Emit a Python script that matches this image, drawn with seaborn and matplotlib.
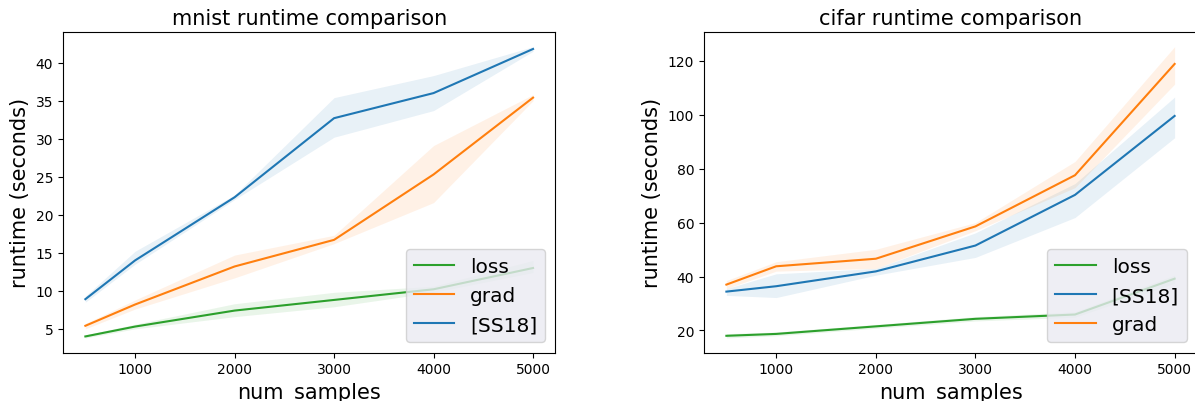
import pandas as pd
import matplotlib
matplotlib.use('Agg')
import matplotlib.pyplot as plt
import seaborn as sns

sizes = [500, 1000, 2000, 3000, 4000, 5000]

# mnist: middle value, lower and upper edge of the band
mnist_loss = [4.0, 5.3, 7.4, 8.8, 10.2, 13.0]
mnist_loss_lo = [3.8, 5.0, 6.6, 7.9, 9.8, 12.4]
mnist_loss_hi = [4.2, 5.6, 8.3, 9.8, 10.6, 14.0]
mnist_grad = [5.4, 8.2, 13.2, 16.7, 25.3, 35.4]
mnist_grad_lo = [5.0, 7.6, 11.7, 16.2, 21.6, 35.0]
mnist_grad_hi = [5.7, 8.8, 14.7, 17.3, 29.1, 35.8]
mnist_ss18 = [8.9, 14.0, 22.3, 32.7, 36.0, 41.8]
mnist_ss18_lo = [8.5, 13.5, 22.0, 30.2, 33.7, 41.5]
mnist_ss18_hi = [9.3, 15.2, 22.6, 35.4, 38.3, 42.1]

# cifar
cifar_loss = [18.0, 18.7, 21.5, 24.3, 25.9, 39.2]
cifar_loss_lo = [17.2, 18.0, 20.8, 23.5, 24.9, 37.5]
cifar_loss_hi = [18.8, 19.4, 22.2, 25.1, 26.9, 40.5]
cifar_ss18 = [34.4, 36.4, 41.9, 51.5, 70.3, 99.6]
cifar_ss18_lo = [33.0, 32.2, 40.5, 47.1, 61.9, 91.5]
cifar_ss18_hi = [35.5, 41.0, 43.0, 56.2, 74.5, 106.6]
cifar_grad = [37.0, 43.8, 46.6, 58.6, 77.6, 118.9]
cifar_grad_lo = [35.5, 42.0, 43.0, 57.0, 73.0, 111.4]
cifar_grad_hi = [38.5, 45.5, 50.1, 60.0, 82.7, 125.3]

colors = {'loss': '#2ca02c', 'grad': '#ff7f0e', '[SS18]': '#1f77b4'}


def long_form(series):
    rows = []
    for name, (mid, lo, hi) in series.items():
        for i, n in enumerate(sizes):
            for v in (lo[i], mid[i], hi[i]):
                rows.append({'num_samples': n, 'runtime': v, 'method': name})
    return pd.DataFrame(rows)


mnist = long_form({'loss': (mnist_loss, mnist_loss_lo, mnist_loss_hi),
                   'grad': (mnist_grad, mnist_grad_lo, mnist_grad_hi),
                   '[SS18]': (mnist_ss18, mnist_ss18_lo, mnist_ss18_hi)})
cifar = long_form({'loss': (cifar_loss, cifar_loss_lo, cifar_loss_hi),
                   '[SS18]': (cifar_ss18, cifar_ss18_lo, cifar_ss18_hi),
                   'grad': (cifar_grad, cifar_grad_lo, cifar_grad_hi)})

fig = plt.figure(figsize=(11.95, 4.02), dpi=100)
ax1 = fig.add_axes([0.0527, 0.1206, 0.4121, 0.797])
ax2 = fig.add_axes([0.5891, 0.1206, 0.4126, 0.797])

for ax, data, order, title in [(ax1, mnist, ['loss', 'grad', '[SS18]'], 'mnist runtime comparison'),
                               (ax2, cifar, ['loss', '[SS18]', 'grad'], 'cifar runtime comparison')]:
    sns.lineplot(data=data, x='num_samples', y='runtime', hue='method', hue_order=order,
                 palette=colors, estimator='median', errorbar=('pi', 100),
                 err_kws={'alpha': 0.1, 'linewidth': 0}, linewidth=1.5, ax=ax)
    ax.set_title(title, fontsize=15)
    ax.set_ylabel('runtime (seconds)', fontsize=15)
    ax.set_xlabel('num_samples', fontsize=15, va='baseline')
    ax.xaxis.set_label_coords(0.5, -0.1404)
    ax.tick_params(labelsize=10)
    sns.move_legend(ax, 'lower right', title=None, fontsize=14.5, frameon=True,
                    facecolor='#EAEAF2', edgecolor='0.8', framealpha=0.8)

fig.savefig('out.png', dpi=100)
